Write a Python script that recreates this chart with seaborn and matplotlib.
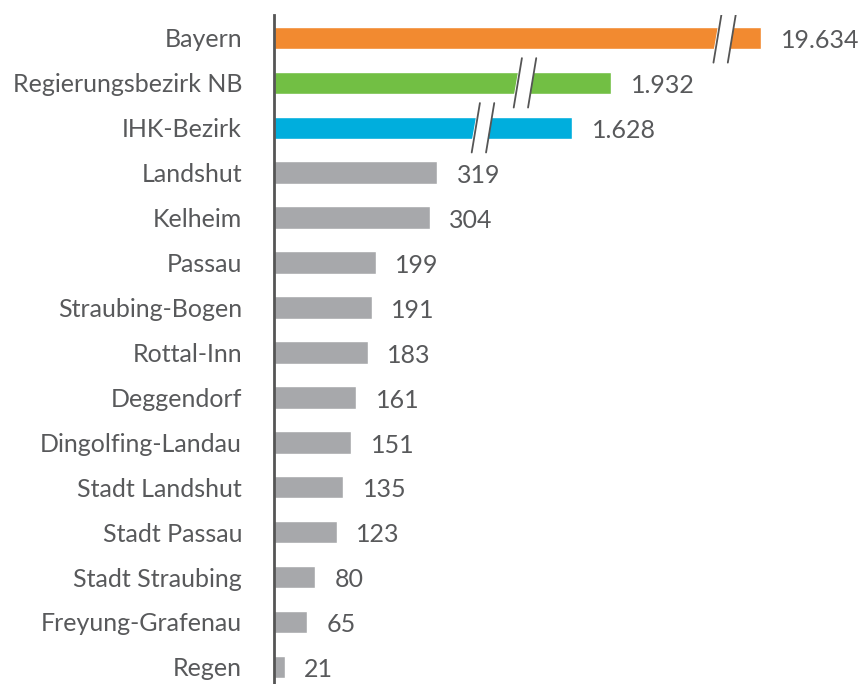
import pandas as pd
import matplotlib.pyplot as plt
import seaborn as sns
from matplotlib.transforms import offset_copy

regions = ["Bayern", "Regierungsbezirk NB", "IHK-Bezirk", "Landshut", "Kelheim",
           "Passau", "Straubing-Bogen", "Rottal-Inn", "Deggendorf", "Dingolfing-Landau",
           "Stadt Landshut", "Stadt Passau", "Stadt Straubing", "Freyung-Grafenau", "Regen"]
values = [19634, 1932, 1628, 319, 304, 199, 191, 183, 161, 151, 135, 123, 80, 65, 21]
labels = ["19.634", "1.932", "1.628", "319", "304", "199", "191", "183", "161", "151",
          "135", "123", "80", "65", "21"]
# drawn length of the three bars that sit behind an axis break
broken_len = {"Bayern": 951, "Regierungsbezirk NB": 658, "IHK-Bezirk": 582}
break_at = {"Bayern": 868, "Regierungsbezirk NB": 478, "IHK-Bezirk": 396}

colors = ["#F28A30", "#72BF44", "#00AEDD"] + ["#A7A8AB"] * 12
text_col = "#58595B"

df = pd.DataFrame({"region": regions, "value": values})
df["shown"] = [broken_len.get(r, v) for r, v in zip(regions, values)]

sns.set_style("white")
plt.rcParams["font.family"] = ["Lato", "DejaVu Sans"]

fig = plt.figure(figsize=(8.62, 6.84), dpi=100)
ax = fig.add_axes([274 / 862, 0, 1 - 274 / 862, 1 - 15 / 684])

sns.barplot(data=df, x="shown", y="region", hue="region", palette=colors,
            legend=False, width=0.5, saturation=1, ax=ax, orient="h")

ax.set_xlim(0, 1148)
ax.set_ylim(14.38, -0.51)
ax.set_xlabel("")
ax.set_ylabel("")
ax.set_xticks([])
sns.despine(ax=ax, top=True, right=True, bottom=True)
ax.spines["left"].set_color("#555555")
ax.spines["left"].set_linewidth(2)
ax.tick_params(axis="y", length=0, pad=23, labelsize=18, labelcolor=text_col)

for i, (s, lab) in enumerate(zip(df["shown"], labels)):
    tr = offset_copy(ax.transData, fig=fig, x=14, y=-2, units="points")
    ax.text(s, i, lab, transform=tr, ha="left", va="center",
            fontsize=18, color=text_col)

# axis-break marks
for r, bx in break_at.items():
    i = regions.index(r)
    gap, slant, h = 28, 8, 0.55
    ax.fill([bx, bx + gap, bx + gap - slant, bx - slant],
            [i - 0.26, i - 0.26, i + 0.26, i + 0.26], color="white", zorder=3)
    for dx in (0, gap):
        ax.plot([bx + dx + slant * 0.5 + 2, bx + dx - slant - 2],
                [i - h, i + h], color="#555555", lw=1.3, zorder=4)

fig.savefig("out.png", dpi=100)
